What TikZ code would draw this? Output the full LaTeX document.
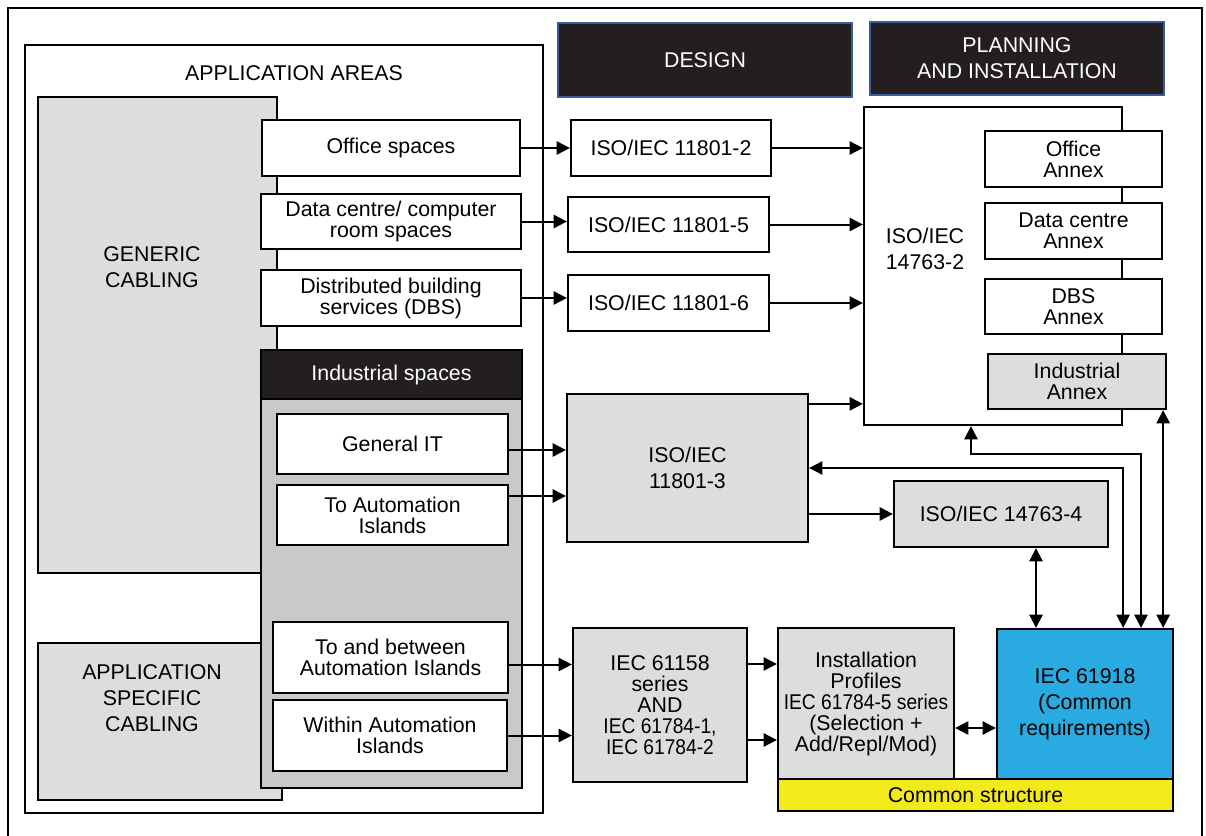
\documentclass[tikz,border=0pt]{standalone}
\usepackage{graphicx}
\usepackage{fontspec}
\setmainfont{Liberation Sans}
\usetikzlibrary{arrows.meta,positioning,calc}

\definecolor{boxgrey}{HTML}{DCDDDF}
\definecolor{indgrey}{HTML}{C8C9CB}
\definecolor{reqblue}{HTML}{29ABE2}
\definecolor{structyellow}{HTML}{F2EA1B}
\definecolor{headblack}{HTML}{231F20}
\definecolor{headrim}{HTML}{3A5DA0}

\begin{document}
\begin{tikzpicture}[x=0.75pt, y=-0.75pt, >={Triangle[length=10pt,width=10pt]},
  every node/.style={font=\fontsize{16}{15.75}\selectfont},
  sz/.style 2 args={minimum width=#1*0.75pt, minimum height=#2*0.75pt},
  box/.style={draw, line width=1.7pt, fill=white, inner sep=0pt, align=center},
  greybox/.style={box, fill=boxgrey},
  head/.style={draw=headrim, line width=1.5pt, fill=headblack, text=white, inner sep=0pt, align=center},
  wide/.style={font=\fontsize{16}{19.5}\selectfont},
  link/.style={line width=1.5pt}]
  \useasboundingbox (0,0) rectangle (1206,835);
  \node[box, fill=none, sz={1194}{842}] (frame) at (605,429) {};

  % application areas
  \node[box, sz={518}{768}] (apparea) at (284,429) {};
  \node (apparealbl) at (294,73) {APPLICATION AREAS};
  \node[greybox, sz={239}{476}] (generic) at (157.5,335) {};
  \node[wide, align=center] (genericlbl) at (152,267) {GENERIC\\CABLING};
  \node[greybox, sz={244}{157}] (appspec) at (160,721.5) {};
  \node[wide, align=center] (appspeclbl) at (152,698) {APPLICATION\\SPECIFIC\\CABLING};
  \node[box, sz={258}{56}] (office) at (391,148) {Office spaces};
  \node[box, sz={260}{55}] (datactr) at (391,221.5) {Data centre/ computer\\room spaces};
  \node[box, sz={260}{56}] (dbs) at (391,298) {Distributed building\\services (DBS)};
  \node[box, fill=indgrey, sz={261}{438}] (indblk) at (391.5,569) {};
  \node[head, draw=black, sz={261}{49}] (indhead) at (391.5,374.5) {Industrial spaces};
  \node[box, sz={231}{60}] (genit) at (392.5,444) {General IT};
  \node[box, sz={231}{60}] (toai) at (392.5,515) {To Automation\\Islands};
  \node[box, sz={235}{71}] (betai) at (390.5,657.5) {To and between\\Automation Islands};
  \node[box, sz={234}{71}] (withinai) at (390,735.5) {Within Automation\\Islands};

  % design / planning
  \node[head, wide, sz={294}{74}] (design) at (705,60) {DESIGN};
  \node[head, wide, sz={294}{73}] (planning) at (1017,58.5) {PLANNING\\AND INSTALLATION};
  \node[box, sz={200}{56}] (iso2) at (671,148) {ISO/IEC 11801-2};
  \node[box, sz={201}{55}] (iso5) at (668.5,224.5) {ISO/IEC 11801-5};
  \node[box, sz={201}{56}] (iso6) at (668.5,303) {ISO/IEC 11801-6};
  \node[box, sz={258}{318}] (ic2) at (993,266) {};
  \node[wide, align=center] (ic2lbl) at (925,249) {ISO/IEC\\14763-2};
  \node[box, sz={177}{56}] (offannex) at (1073.5,159) {Office\\Annex};
  \node[box, sz={177}{56}] (dcannex) at (1073.5,231) {Data centre\\Annex};
  \node[box, sz={177}{55}] (dbsannex) at (1073.5,306.5) {DBS\\Annex};
  \node[greybox, sz={178}{55}] (indannex) at (1077,381.5) {Industrial\\Annex};
  \node[greybox, wide, sz={241}{148}] (iso3) at (687.5,468) {ISO/IEC\\11801-3};
  \node[greybox, sz={214}{66}] (iso4) at (1001,514) {ISO/IEC 14763-4};
  \node[greybox, sz={174}{154}] (iec58) at (660,705)
      {IEC 61158\\series\\AND\\\scalebox{0.9}[1]{IEC 61784-1,}\\\scalebox{0.9}[1]{IEC 61784-2}};
  \node[greybox, sz={176}{151}] (instprof) at (866,703.5)
      {Installation\\Profiles\\\scalebox{0.9}[1]{IEC 61784-5 series}\\(Selection +\\Add/Repl/Mod)};
  \node[box, fill=reqblue, wide, sz={176}{150}] (req) at (1085,704) {IEC 61918\\(Common\\requirements)};
  \node[box, fill=structyellow, sz={395}{32}] (common) at (975.5,795) {Common structure};

  % connectors
  \coordinate (iso3top) at ($(iso3.north east)+(0,11)$);
  \coordinate (gitout) at ($(genit.east)+(0,6)$);
  \coordinate (toaiout) at ($(toai.east)+(0,-19)$);
  \coordinate (betaiout) at ($(betai.east)+(0,7)$);
  \coordinate (iec58a) at ($(iec58.east)+(0,-41)$);
  \coordinate (iec58b) at ($(iec58.east)+(0,35)$);
  \coordinate (instout) at ($(instprof.east)+(0,24.5)$);
  \coordinate (iso4bot) at ($(iso4.south)+(35,0)$);
  \coordinate (indout) at ($(indannex.south east)+(-4,0)$);
  \coordinate (bendA) at (971,454);
  \coordinate (bendB) at (1141,454);
  \draw[link,->] (office.east) -- (office.east -| iso2.west);
  \draw[link,->] (datactr.east) -- (datactr.east -| iso5.west);
  \draw[link,->] (dbs.east) -- (dbs.east -| iso6.west);
  \draw[link,->] (iso2.east) -- (iso2.east -| ic2.west);
  \draw[link,->] (iso5.east) -- (iso5.east -| ic2.west);
  \draw[link,->] (iso6.east) -- (iso6.east -| ic2.west);
  \draw[link,->] (iso3top) -- (iso3top -| ic2.west);
  \draw[link,->] (gitout) -- (gitout -| iso3.west);
  \draw[link,->] (toaiout) -- (toaiout -| iso3.west);
  \draw[link,->] (iso3.east |- iso4.west) -- (iso4.west);
  \draw[link,->] (betaiout) -- (betaiout -| iec58.west);
  \draw[link,->] (withinai.east) -- (withinai.east -| iec58.west);
  \draw[link,->] (iec58a) -- (iec58a -| instprof.west);
  \draw[link,->] (iec58b) -- (iec58b -| instprof.west);
  \draw[link,<->] (instout) -- (instout -| req.west);
  \draw[link,<->] (iso4bot) -- (iso4bot |- req.north);
  \draw[link,<->] (iso3.east) -| (ic2.east |- req.north);
  \draw[link,<->] (bendA |- ic2.south) -- (bendA) -- (bendB) -- (bendB |- req.north);
  \draw[link,<->] (indout) -- (indout |- req.north);
\end{tikzpicture}
\end{document}
